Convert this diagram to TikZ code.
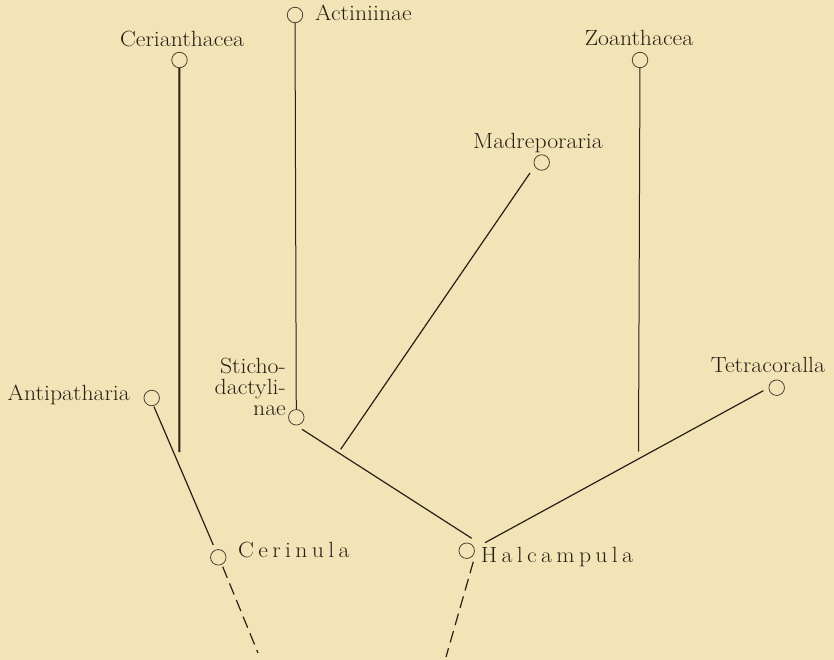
\documentclass[tikz,border=0pt]{standalone}
\usepackage{fontspec}
\usepackage{graphicx}
\definecolor{paper}{RGB}{243,228,184}
\definecolor{ink}{RGB}{42,31,20}
\definecolor{circ}{RGB}{80,66,50}
\newcommand{\lsp}{\kern4pt}
\newcommand{\wtext}[1]{\scalebox{1.08}[1]{#1}}
\tikzset{
  taxon/.style={circle, draw=circ, line width=0.8pt, minimum size=15.5pt, inner sep=0pt},
  lbl/.style={text=ink, font=\fontsize{22}{24}\selectfont, inner sep=0pt},
  branch/.style={draw=ink, line width=1.2pt},
  thinbranch/.style={draw=ink, line width=1pt},
  heavy/.style={draw=ink, line width=2pt},
  dashline/.style={draw=ink, line width=1.2pt, dash pattern=on 12pt off 6pt},
}
\begin{document}
\begin{tikzpicture}[x=1pt,y=-1pt]
\fill[paper] (0,0) rectangle (834,660);
\useasboundingbox (0,0) rectangle (834,660);

% circles
\node[taxon] (act) at (295,15) {};
\node[taxon] (cer) at (179.5,60) {};
\node[taxon] (zoa) at (640,60) {};
\node[taxon] (mad) at (541.7,162.5) {};
\node[taxon] (tet) at (776.7,387.7) {};
\node[taxon] (ant) at (151.7,398) {};
\node[taxon] (sti) at (296.3,417.3) {};
\node[taxon] (ceu) at (218.3,557.3) {};
\node[taxon] (hal) at (466.7,550.7) {};

% labels
\node[lbl, anchor=base west] (actL) at (315,20.7) {\wtext{Actiniinae}};
\node[lbl, anchor=base] (cerL) at (182,46.5) {\wtext{Cerianthacea}};
\node[lbl, anchor=base] (zoaL) at (639,45.7) {\wtext{Zoanthacea}};
\node[lbl, anchor=base] (madL) at (538,149) {\wtext{Madreporaria}};
\node[lbl, anchor=base] (tetL) at (768,372.7) {\wtext{Tetracoralla}};
\node[lbl, anchor=base east] (antL) at (130,400) {\wtext{Antipatharia}};
\node[lbl, anchor=base east] (stiA) at (286,373) {\wtext{Sticho-}};
\node[lbl, anchor=base east] (stiB) at (286,394) {\wtext{dactyli-}};
\node[lbl, anchor=base east] (stiC) at (286,415) {\wtext{nae}};
\node[lbl, anchor=base west] (ceuL) at (238,557.3) {\wtext{C\lsp e\lsp r\lsp i\lsp n\lsp u\lsp l\lsp a}};
\node[lbl, anchor=base west] (halL) at (480.7,562) {\wtext{H\lsp a\lsp l\lsp c\lsp a\lsp m\lsp p\lsp u\lsp l\lsp a}};

% free ends
\coordinate (cerEnd) at (179.3,452);
\coordinate (zoaEnd) at (638.5,451.7);
\coordinate (madEnd) at (340.7,449.3);
\coordinate (ceuDown) at (258,653);
\coordinate (halDown) at (446,657);

% connectors
\draw[heavy] (cer) -- (cerEnd);
\draw[thinbranch] (act) -- (sti);
\draw[thinbranch] (zoa) -- (zoaEnd);
\draw[branch] ([shift={(-11.7pt,-10.5pt)}]mad.center) -- (madEnd);
\draw[branch] ([shift={(5.7pt,-12pt)}]sti.center) -- ([shift={(5pt,12.4pt)}]hal.center);
\draw[branch] ([shift={(-13.4pt,-3pt)}]tet.center) -- ([shift={(18.3pt,8pt)}]hal.center);
\draw[branch] ([shift={(2.3pt,-8.7pt)}]ant.center) -- ([shift={(-5pt,12.3pt)}]ceu.center);
\draw[dashline] ([shift={(4.4pt,-9.4pt)}]ceu.center) -- (ceuDown);
\draw[dashline] ([shift={(6.6pt,-11pt)}]hal.center) -- (halDown);
\end{tikzpicture}
\end{document}
